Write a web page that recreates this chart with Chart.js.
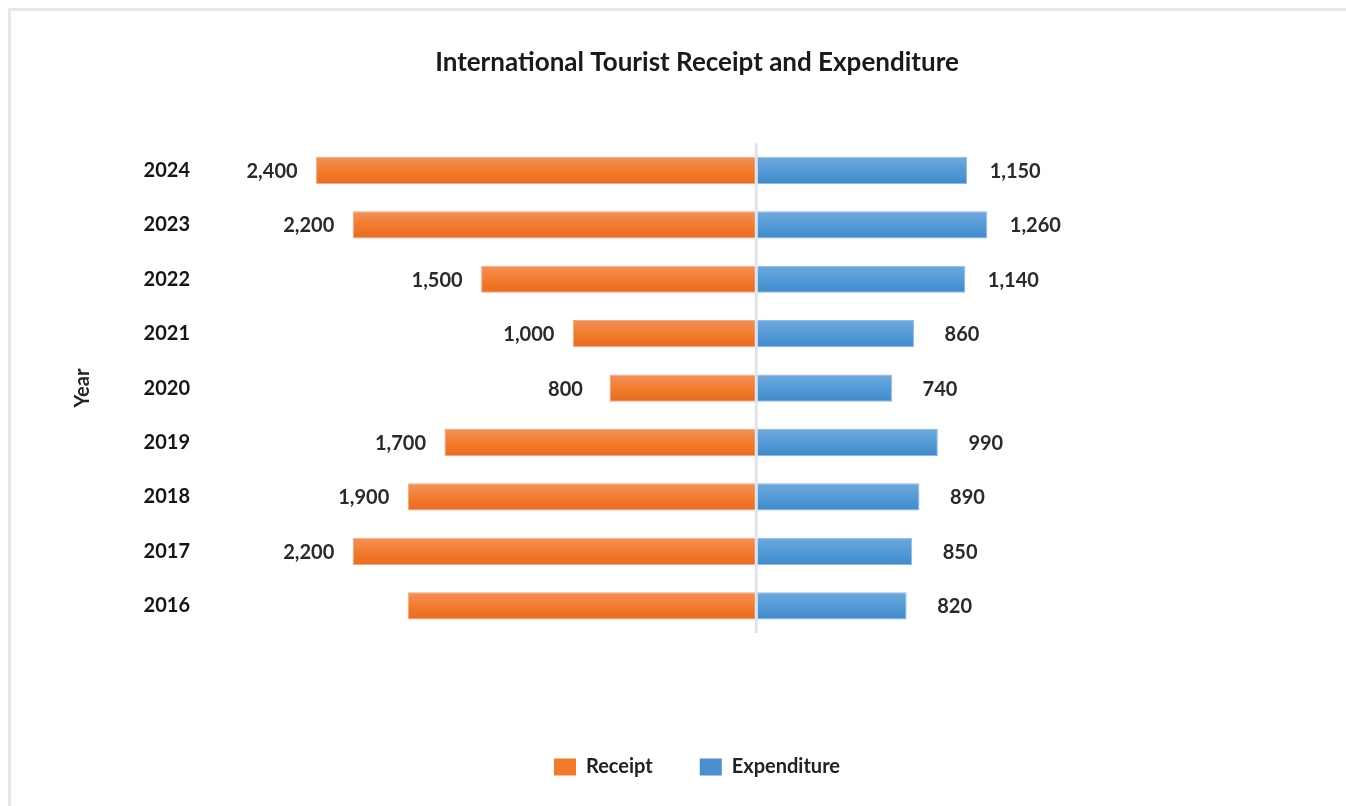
<!DOCTYPE html>
<html>
<head>
<meta charset="utf-8">
<script src="https://cdn.jsdelivr.net/npm/chart.js@4.4.1/dist/chart.umd.min.js"></script>
<style>
  body { margin: 0; background: #fff; overflow: hidden; }
  .frame { position: absolute; left: 8px; top: 8px; width: 1400px; height: 900px; border: 3px solid #e3e7ef; box-sizing: border-box; }
  .wrap { position: absolute; left: 0; top: 0; width: 1346px; height: 806px; }
</style>
</head>
<body>
<div class="frame"></div>
<div class="wrap"><canvas id="chart"></canvas></div>
<script>
// years, top row first
const years = ['2024', '2023', '2022', '2021', '2020', '2019', '2018', '2017', '2016'];
const receipt = [2400, 2200, 1500, 1000, 800, 1700, 1900, 2200, 1900];
const expenditure = [1150, 1260, 1140, 860, 740, 990, 890, 850, 820];
// rows where the receipt value is not printed
const receiptNoLabel = ['2016'];

const FONT = 'Lato, "Noto Sans", sans-serif';

// vertical gradient for each bar, lighter on top
function barGradient(top, bottom) {
  return function (c) {
    const chart = c.chart;
    if (!chart.chartArea || c.dataIndex === undefined) return bottom[0];
    const y = chart.scales.y.getPixelForValue(c.dataIndex);
    const half = chart.chartArea.height / years.length / 4;
    const g = chart.ctx.createLinearGradient(0, y - half, 0, y + half);
    g.addColorStop(0, top);
    g.addColorStop(0.55, bottom[0]);
    g.addColorStop(1, bottom[1]);
    return g;
  };
}

// zero line on top of the bars + value labels
const extras = {
  id: 'extras',
  afterDatasetsDraw(chart) {
    const ctx = chart.ctx;
    const x0 = chart.scales.x.getPixelForValue(0);
    ctx.save();
    ctx.strokeStyle = '#dfe3eb';
    ctx.lineWidth = 3;
    ctx.beginPath();
    ctx.moveTo(x0, chart.chartArea.top);
    ctx.lineTo(x0, chart.chartArea.bottom);
    ctx.stroke();

    ctx.font = 'bold 20px ' + FONT;
    ctx.fillStyle = '#2a2a2a';
    ctx.textAlign = 'center';
    ctx.textBaseline = 'middle';
    chart.data.datasets.forEach((ds, di) => {
      chart.getDatasetMeta(di).data.forEach((bar, i) => {
        if (di === 0 && receiptNoLabel.includes(years[i])) return;
        const v = Math.abs(ds.data[i]);
        const dx = di === 0 ? -44 : 48;
        ctx.fillText(v.toLocaleString('en-US'), bar.x + dx, bar.y + 1);
      });
    });
    ctx.restore();
  }
};

new Chart(document.getElementById('chart'), {
  type: 'bar',
  data: {
    labels: years,
    datasets: [{
      label: 'Receipt',
      data: receipt.map(v => -v),
      backgroundColor: barGradient('#f3915a', ['#f27a2a', '#e86a22']),
      borderColor: '#f6a679',
      borderWidth: 1,
      borderSkipped: false,
      barPercentage: 0.5,
      categoryPercentage: 1
    }, {
      label: 'Expenditure',
      data: expenditure,
      backgroundColor: barGradient('#6ea9de', ['#5299d6', '#4189cb']),
      borderColor: '#8fbce6',
      borderWidth: 1,
      borderSkipped: false,
      barPercentage: 0.5,
      categoryPercentage: 1
    }]
  },
  options: {
    indexAxis: 'y',
    responsive: true,
    maintainAspectRatio: false,
    animation: false,
    layout: { padding: { left: 60, right: 12, top: 0, bottom: 19 } },
    scales: {
      x: {
        // no ticks, only keeps room between the bars and the legend
        stacked: true,
        min: -3000,
        max: 3150,
        ticks: { display: false },
        grid: { display: false },
        border: { display: false },
        afterFit(scale) { scale.height = 77; }
      },
      y: {
        stacked: true,
        grid: { display: false, drawTicks: false },
        border: { display: false },
        ticks: {
          padding: 16,
          color: '#151515',
          font: { family: FONT, size: 20, weight: 'bold' }
        },
        title: {
          display: true,
          text: 'Year',
          color: '#222',
          padding: { top: 11, bottom: 0 },
          font: { family: FONT, size: 20, weight: 'bold' }
        },
        afterFit(scale) { scale.width = 146; }
      }
    },
    plugins: {
      title: {
        display: true,
        text: 'International Tourist Receipt and Expenditure',
        color: '#1a1a1a',
        padding: { top: 47, bottom: 65 },
        font: { family: FONT, size: 26, weight: 'bold' }
      },
      legend: {
        position: 'bottom',
        labels: {
          boxWidth: 22,
          boxHeight: 17,
          padding: 47,
          color: '#222',
          font: { family: FONT, size: 20, weight: 'bold' },
          generateLabels(chart) {
            return [['Receipt', '#f27a2a'], ['Expenditure', '#4a8fcf']].map((d, i) => ({
              text: d[0], fillStyle: d[1], strokeStyle: d[1], lineWidth: 0,
              datasetIndex: i, hidden: false, fontColor: '#222'
            }));
          }
        }
      },
      tooltip: { enabled: false }
    }
  },
  plugins: [extras]
});
</script>
</body>
</html>
